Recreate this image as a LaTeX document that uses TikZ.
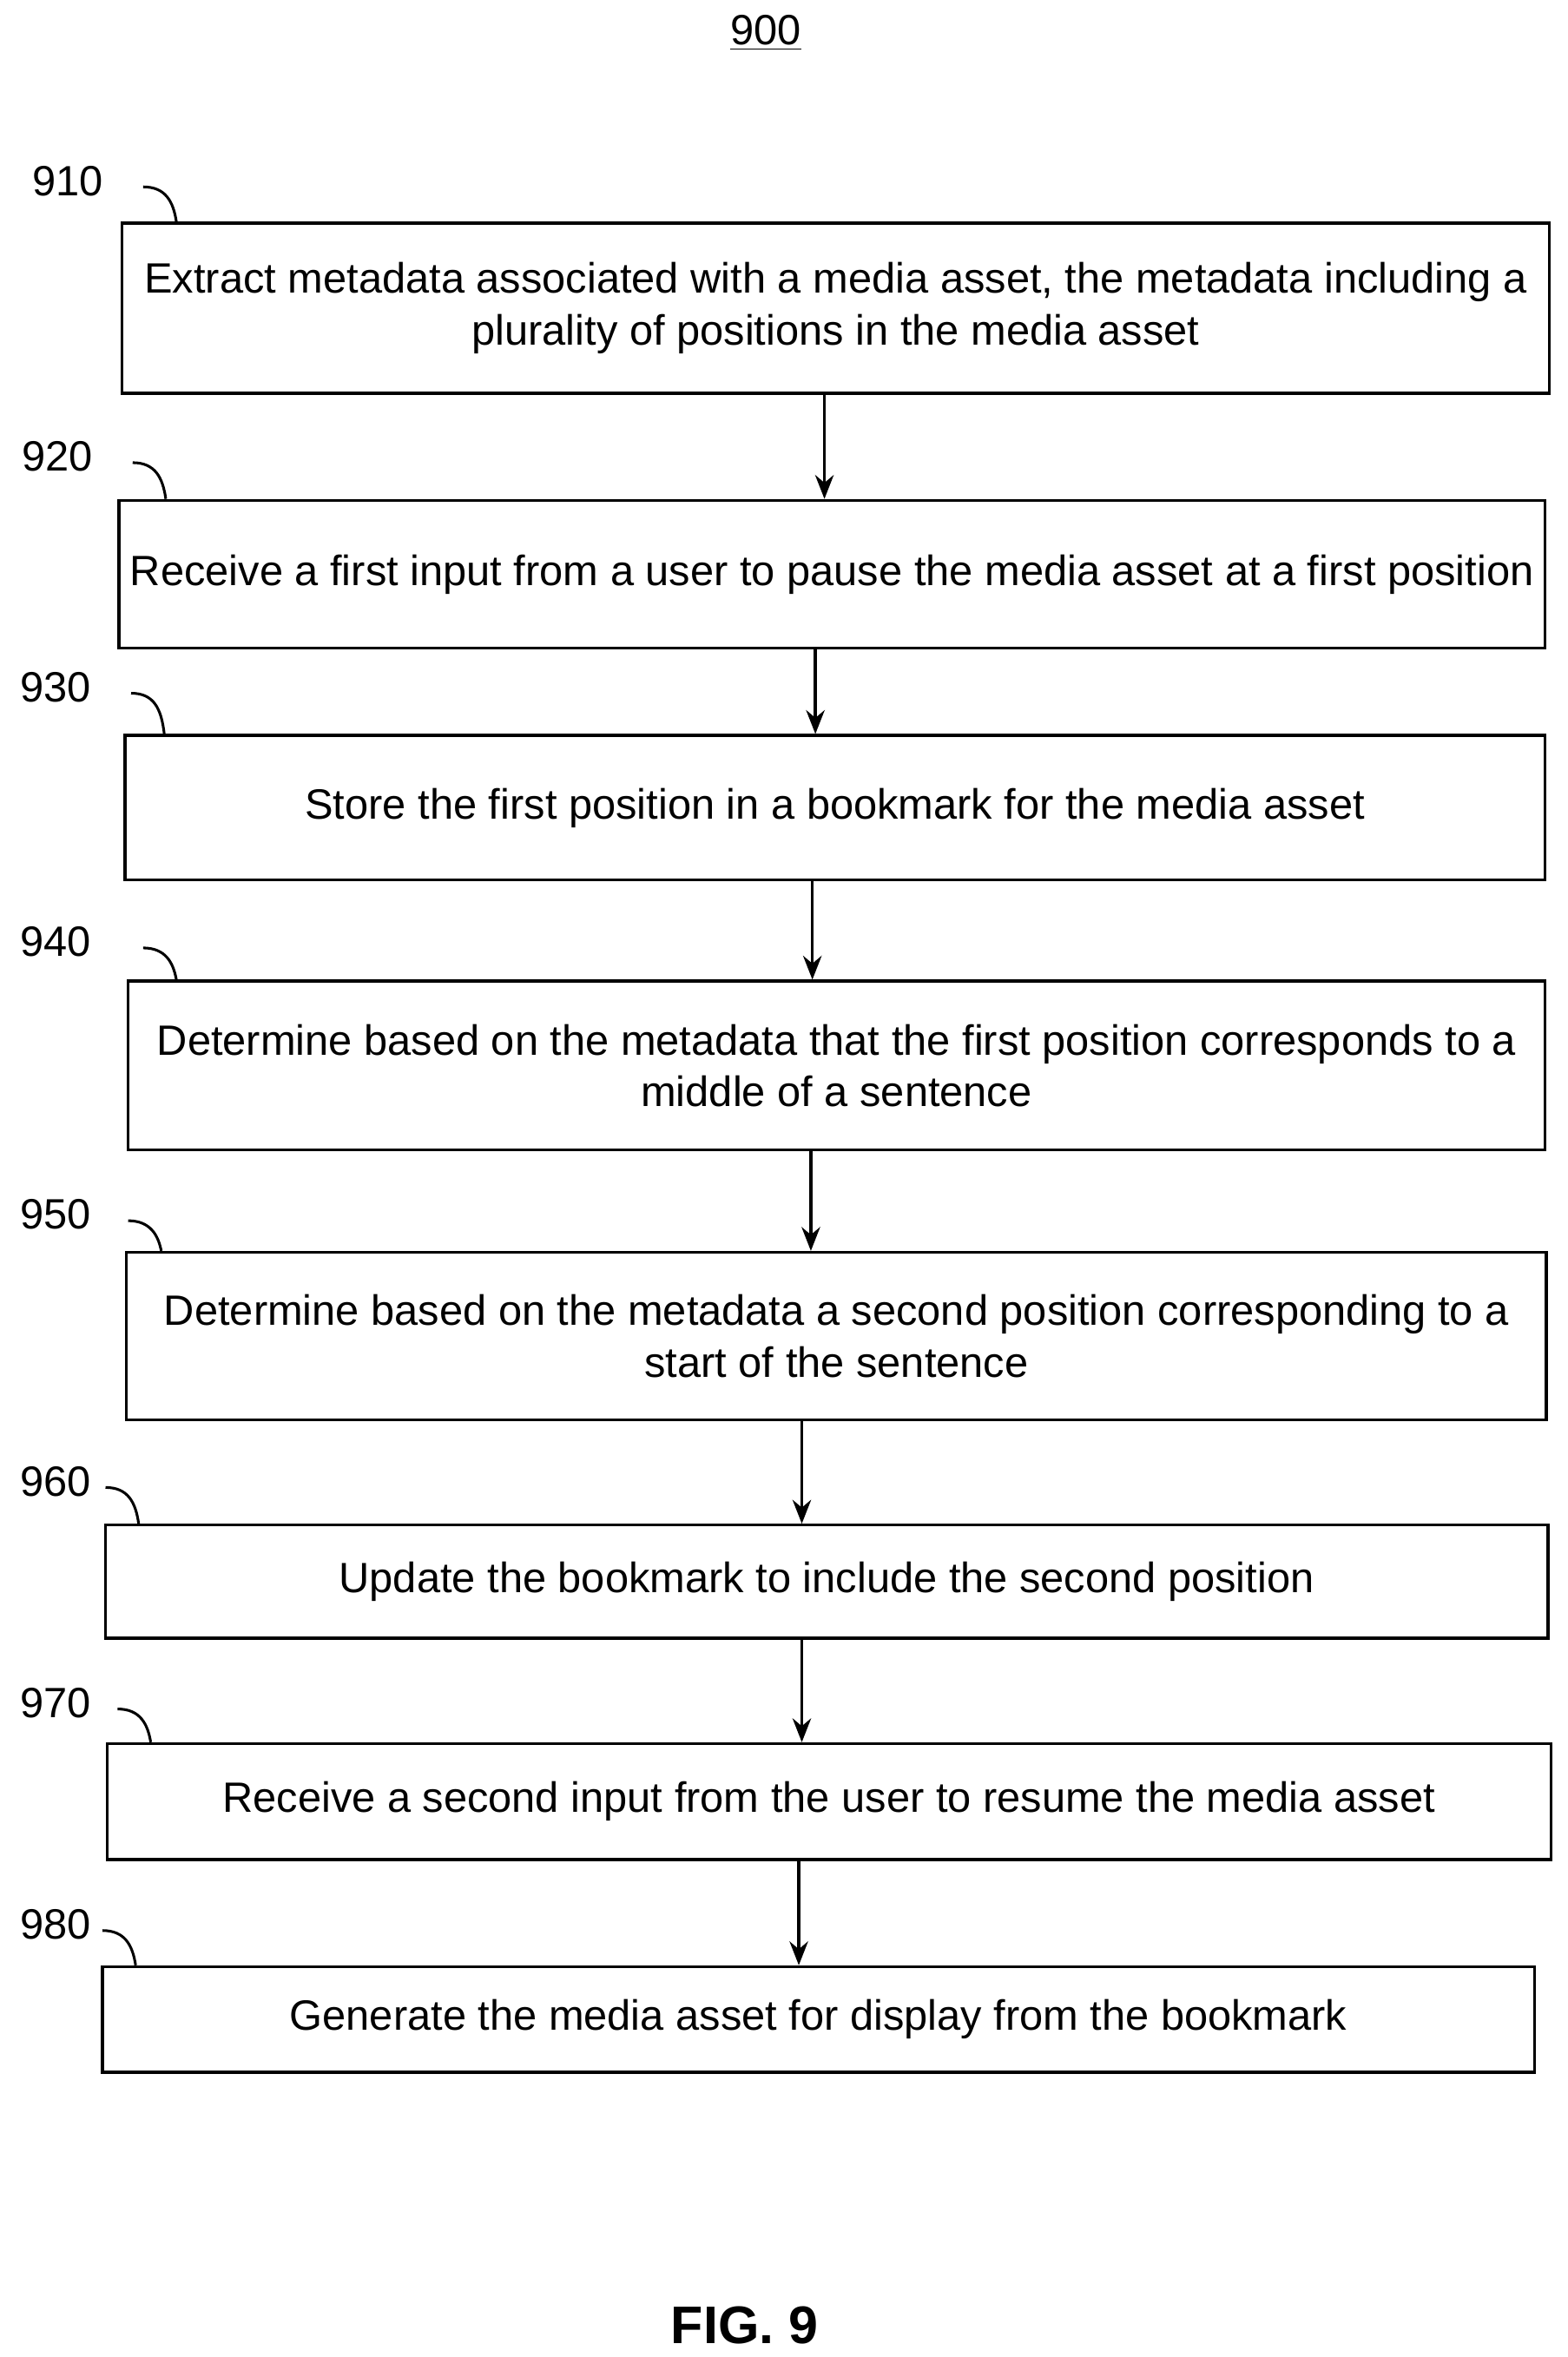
\documentclass[tikz,border=0pt]{standalone}
\usepackage{fontspec}
\usetikzlibrary{arrows.meta}
\setmainfont{Liberation Sans}
\begin{document}
\begin{tikzpicture}[x=0.02cm,y=-0.02cm,
 box/.style={draw,line width=1.1pt,inner sep=0pt,align=center,font=\fontsize{16}{19.5}\selectfont},
 lab/.style={font=\fontsize{16}{18}\selectfont},
 arr/.style={->,line width=1.1pt,>={Stealth[length=9pt,width=7pt]}},
 hook/.style={line width=1pt}]
\useasboundingbox (0,0) rectangle (1040,1564);
\node[font=\fontsize{16}{18}\selectfont] (t) at (508,22) {\underline{900}};
\node[font=\bfseries\fontsize{20}{22}\selectfont] (f) at (494,1543) {FIG. 9};
\newcommand{\bx}[6]{\node[box,minimum width={(#4-#2)*0.02cm},minimum height={(#5-#3)*0.02cm}] (#1) at ({(#2+#4)/2},{(#3+#5)/2}) {#6};}
\bx{b1}{81}{148}{1028}{261}{Extract metadata associated with a media asset, the metadata including a\\plurality of positions in the media asset}
\bx{b2}{79}{332}{1025}{430}{Receive a first input from a user to pause the media asset at a first position}
\bx{b3}{83}{488}{1025}{584}{Store the first position in a bookmark for the media asset}
\bx{b4}{85}{651}{1025}{763}{Determine based on the metadata that the first position corresponds to a\\middle of a sentence}
\bx{b5}{84}{831}{1026}{942}{Determine based on the metadata a second position corresponding to a\\start of the sentence}
\bx{b6}{70}{1012}{1027}{1087}{Update the bookmark to include the second position}
\bx{b7}{71}{1157}{1029}{1234}{Receive a second input from the user to resume the media asset}
\bx{b8}{68}{1305}{1018}{1375}{Generate the media asset for display from the bookmark}
\foreach \n/\t/\x/\y/\hx in {b1/910/45/120/95,b2/920/38/303/88,b3/930/37/456/87,b4/940/37/625/95,b5/950/37/806/85,b6/960/37/983/70,b7/970/37/1130/78,b8/980/37/1277/68}{
 \node[lab] (l\n) at (\x,\y) {\t};
 \draw[hook] (\hx,\y+4) .. controls (\hx+15,\y+4) and (\hx+20,\y+14) .. (\n.north west -| {\hx+22},0);
}
\draw[arr] (b1.south -| 547,0) -- (b2.north -| 547,0);
\draw[arr] (b2.south -| 541,0) -- (b3.north -| 541,0);
\draw[arr] (b3.south -| 539,0) -- (b4.north -| 539,0);
\draw[arr] (b4.south -| 538,0) -- (b5.north -| 538,0);
\draw[arr] (b5.south -| 532,0) -- (b6.north -| 532,0);
\draw[arr] (b6.south -| 532,0) -- (b7.north -| 532,0);
\draw[arr] (b7.south -| 530,0) -- (b8.north -| 530,0);
\end{tikzpicture}
\end{document}
